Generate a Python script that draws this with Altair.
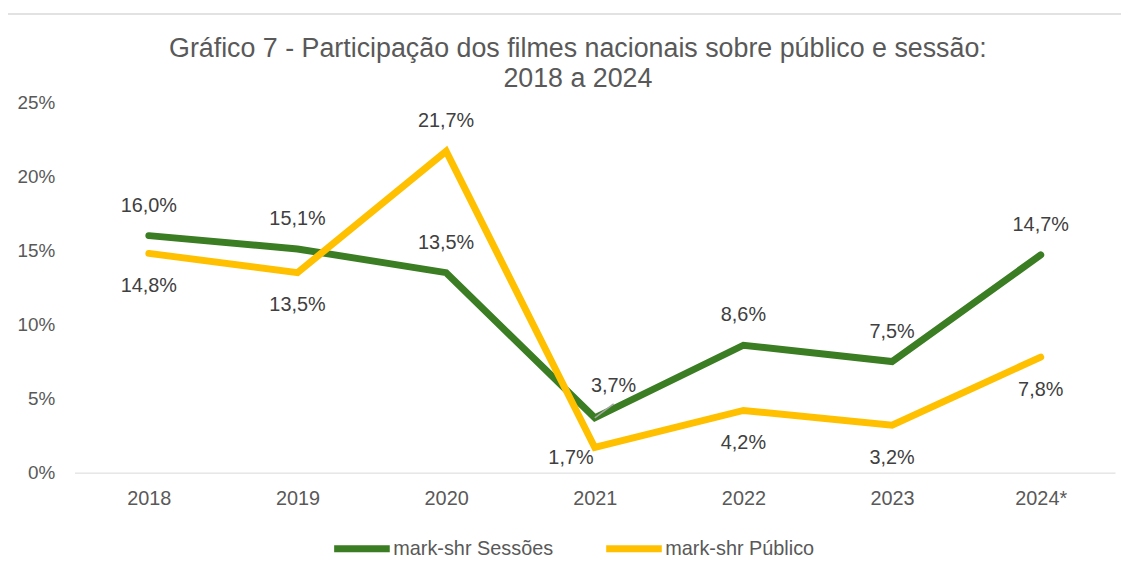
import altair as alt
import pandas as pd

years = ["2018", "2019", "2020", "2021", "2022", "2023", "2024*"]
sessoes = [16.0, 15.1, 13.5, 3.7, 8.6, 7.5, 14.7]
publico = [14.8, 13.5, 21.7, 1.7, 4.2, 3.2, 7.8]
series_names = ["mark-shr Sessões", "mark-shr Público"]
colors = ["#3a7d22", "#ffc000"]
y_ticks = [0, 5, 10, 15, 20, 25]
title_line1 = "Gráfico 7 - Participação dos filmes nacionais sobre público e sessão:"
title_line2 = "2018 a 2024"

rows = []
for yr, s, p in zip(years, sessoes, publico):
    rows.append({"year": yr, "series": series_names[0], "value": s, "other": p})
    rows.append({"year": yr, "series": series_names[1], "value": p, "other": s})
df = pd.DataFrame(rows)

FONT = "Liberation Sans"
GREY = "#595959"

x_enc = alt.X("year:N", sort=years,
              scale=alt.Scale(type="point", padding=0.5),
              axis=alt.Axis(title=None, labelAngle=0, ticks=False, domainColor="#d9d9d9",
                            domainWidth=1, labelColor=GREY, labelFontSize=20, labelFont=FONT,
                            labelPadding=16, grid=False))
y_enc = alt.Y("value:Q", scale=alt.Scale(domain=[0, 25], nice=False, zero=True),
              axis=alt.Axis(title=None, values=y_ticks, labelExpr="datum.value + '%'", grid=False,
                            domain=False, ticks=False, labelPadding=20, labelColor=GREY,
                            labelFontSize=19, labelFont=FONT))
color_enc = alt.Color("series:N",
                      scale=alt.Scale(domain=series_names, range=colors),
                      legend=alt.Legend(title=None, orient="none", legendX=258, legendY=418,
                                        direction="horizontal", symbolType="stroke",
                                        symbolStrokeWidth=7, symbolSize=3136,
                                        labelFontSize=20, labelFont=FONT, labelColor=GREY,
                                        labelLimit=400, columnPadding=38, labelOffset=0))

base = alt.Chart(df).transform_calculate(
    label="replace(format(datum.value, '.1f'), '.', ',') + '%'"
)

line_s = base.mark_line(strokeWidth=7, strokeCap="round", strokeJoin="miter").encode(
    x=x_enc, y=y_enc, color=color_enc
).transform_filter(alt.datum.series == series_names[0])
line_p = base.mark_line(strokeWidth=7, strokeCap="round", strokeJoin="miter").encode(
    x=x_enc, y=y_enc, color=color_enc
).transform_filter(alt.datum.series == series_names[1])

def txt(filt, dx=0, dy=0):
    return base.transform_filter(filt).mark_text(
        font=FONT, fontSize=20, color="#404040", dx=dx, dy=dy, baseline="middle"
    ).encode(x=alt.X("year:N", sort=years), y=alt.Y("value:Q"), text="label:N")

t_s = txt(f"datum.series == '{series_names[0]}' && datum.year != '2021'", dy=-30)
t_p_below = txt(f"datum.series == '{series_names[1]}' && datum.value < datum.other && datum.year != '2021'", dy=33)
t_p_above = txt(f"datum.series == '{series_names[1]}' && datum.value >= datum.other", dy=-30)
t_s21 = txt(f"datum.series == '{series_names[0]}' && datum.year == '2021'", dx=19, dy=-32)
t_p21 = txt(f"datum.series == '{series_names[1]}' && datum.year == '2021'", dx=-24, dy=11)

# small leader line for the 2021 "Sessões" label
leader = base.transform_filter(
    f"datum.series == '{series_names[0]}' && datum.year == '2021'"
).mark_point(shape="M0,0L1,-0.74", filled=False, stroke="#a6a6a6", strokeWidth=1.5,
             size=1444, opacity=1).encode(
    x=alt.X("year:N", sort=years), y=alt.Y("value:Q"),
)

one = pd.DataFrame({"a": [0]})
frame_left = alt.Chart(one).mark_rule(color="#d9d9d9", strokeWidth=1.5).encode(
    x=alt.value(-70), y=alt.value(-89), y2=alt.value(470))
frame_top = alt.Chart(one).mark_rule(color="#d9d9d9", strokeWidth=1.5).encode(
    x=alt.value(-71), x2=alt.value(1060), y=alt.value(-89))

title1 = alt.Chart(one).mark_text(font=FONT, fontSize=27, color=GREY, align="center",
                                  baseline="middle", text=title_line1).encode(
    x=alt.value(507), y=alt.value(-54))
title2 = alt.Chart(one).mark_text(font=FONT, fontSize=27, color=GREY, align="center",
                                  baseline="middle", text=title_line2).encode(
    x=alt.value(507), y=alt.value(-23))

chart = alt.layer(frame_left, frame_top, title1, title2, line_s, line_p, leader,
                  t_s, t_p_below, t_p_above, t_s21, t_p21).properties(
    width=1048, height=373,
    autosize=alt.AutoSizeParams(type="none"),
    padding={"left": 67, "top": 93, "right": 6, "bottom": 86},
).configure(background="white").configure_view(stroke=None)

chart.save("out.html", embed_options={"renderer": "svg", "actions": False})
